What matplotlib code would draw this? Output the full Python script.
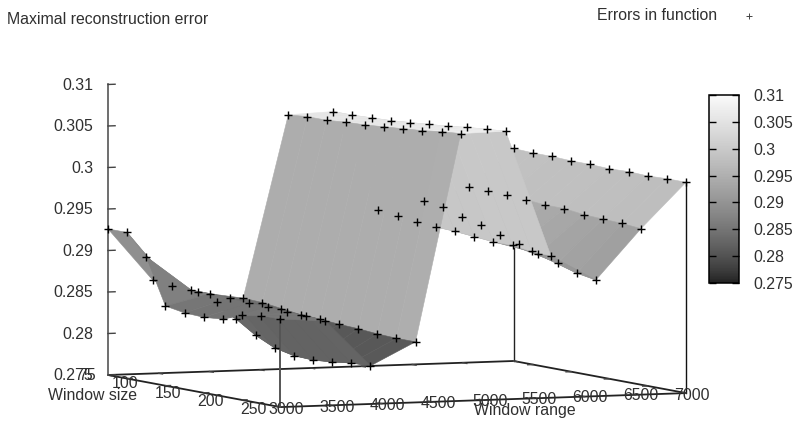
import numpy as np
import matplotlib
matplotlib.use("Agg")
import matplotlib.pyplot as plt
from matplotlib.colors import LinearSegmentedColormap, Normalize
from matplotlib.cm import ScalarMappable
from matplotlib.lines import Line2D
from mpl_toolkits.mplot3d import proj3d

plt.rcParams['font.family'] = ['Liberation Sans', 'DejaVu Sans']

window_size = [75, 100, 125, 150, 175, 200, 225, 250, 275, 300]
window_range = [3000, 3444, 3889, 4333, 4778, 5222, 5667, 6111, 6556, 7000]
err_3000 = [.2926, .2926, .2901, .2846, .2842, .2841, .2843, .2852, .2856, .2856]
err_3444 = [.2862, .2860, .2859, .2859, .2858, .2856, .2856, .2854, .2854, .2852]
err_3889 = [.2846, .2838, .2822, .2807, .2796, .2791, .2790, .2792, .2795, .2796]
err_4333 = [.2837, .2836, .2833, .2830, .2829, .2827, .2826, .2824, .2823, .2823]
err_4778 = [.3056, .3058, .3058, .3060, .3061, .3063, .3065, .3067, .3070, .3072]
err_5222 = [.3058, .3058, .3059, .3060, .3062, .3064, .3066, .3069, .3071, .3073]
err_5667 = [.2937, .2934, .2932, .2930, .2929, .2927, .2925, .2925, .2922, .2921]
err_6111 = [.2947, .2943, .2936, .2930, .2923, .2916, .2909, .2902, .2894, .2890]
err_6556 = [.2962, .2961, .2960, .2959, .2957, .2957, .2954, .2953, .2952, .2950]
err_7000 = [.3006, .3005, .3005, .3004, .3004, .3003, .3004, .3003, .3004, .3004]
z_ticks = [0.275, 0.28, 0.285, 0.29, 0.295, 0.3, 0.305, 0.31]
ws_ticks = [100, 150, 200, 250]
wr_ticks = [3000, 3500, 4000, 4500, 5000, 5500, 6000, 6500, 7000]

W, H = 795, 421
fig = plt.figure(figsize=(W / 100, H / 100), dpi=100)
ax = fig.add_axes([0, 0, 1, 1], projection='3d')
ax.set_proj_type('ortho')
ax.view_init(elev=4.6, azim=-23.3)
ax.set_box_aspect((435, 441, 291))
ax.set_xlim(75, 300, view_margin=0)
ax.set_ylim(3000, 7000, view_margin=0)
ax.set_zlim(0.275, 0.31, view_margin=0)
ax.set_axis_off()
ax.computed_zorder = False


def to_px(x, y, z):
    a, b, _ = proj3d.proj_transform(x, y, z, ax.get_proj())
    return ax.transData.transform((a, b))


# fit the 3D box to the frame: corner (75,3000,.275) and (300,7000,.275)
S, l, b = 900.0, 0.0, 0.0
target_a = np.array([108.0, H - 375.0])
target_c = np.array([686.0, H - 394.0])
for _ in range(4):
    ax.set_position([l / W, b / H, S / W, S / H])
    ax.apply_aspect()
    pa = to_px(75, 3000, 0.275)
    pc = to_px(300, 7000, 0.275)
    S *= (target_c[0] - target_a[0]) / (pc[0] - pa[0])
    ax.set_position([l / W, b / H, S / W, S / H])
    ax.apply_aspect()
    pa = to_px(75, 3000, 0.275)
    l += target_a[0] - pa[0]
    b += target_a[1] - pa[1]
ax.set_position([l / W, b / H, S / W, S / H])
ax.apply_aspect()

Z = np.array([err_3000, err_3444, err_3889, err_4333, err_4778,
              err_5222, err_5667, err_6111, err_6556, err_7000])
X, Y = np.meshgrid(window_size, window_range)

levels = np.linspace(0, 1, 256) ** 0.74
cmap = LinearSegmentedColormap.from_list(
    'grays', [(v,) * 3 for v in (30 + levels * 220) / 255])
norm = Normalize(0.275, 0.31)
cell = (Z[:-1, :-1] + Z[1:, :-1] + Z[:-1, 1:] + Z[1:, 1:]) / 4
ax.plot_surface(X, Y, Z, facecolors=cmap(norm(cell)), rstride=1, cstride=1,
                shade=False, linewidth=0.4, antialiased=True, zorder=2)

x0, x1, y0, y1, zb = 75, 300, 3000, 7000, 0.275
box = dict(color='#222222', lw=1.3, solid_capstyle='butt')
ax.plot([x0, x0], [y0, y1], [zb, zb], zorder=1, **box)
ax.plot([x0, x1], [y1, y1], [zb, zb], zorder=1, **box)
ax.plot([x0, x0], [y1, y1], [zb, Z[6, 7]], zorder=1, color='#222222', lw=1.0)
ax.plot([x0, x1], [y0, y0], [zb, zb], zorder=3, **box)
ax.plot([x1, x1], [y0, y1], [zb, zb], zorder=3, **box)
ax.plot([x1, x1], [y1, y1], [zb, Z[9, 9]], zorder=3, color='#111111', lw=1.0)
ax.plot([x1, x1], [y0, y0], [zb, Z[0, 9]], zorder=3, color='#555555', lw=1.4)
ax.plot([x0, x0], [y0, y0], [zb, 0.31], zorder=3, color='#555555', lw=1.2)

tick = dict(color='#444444', lw=1.0)
for z in z_ticks:
    ax.plot([x0, x0], [y0, y0 + 70], [z, z], zorder=3, **tick)
for v in ws_ticks:
    ax.plot([v, v], [y0, y0 + 50], [zb, zb], zorder=3, **tick)
    ax.plot([v, v], [y1, y1 - 50], [zb, zb], zorder=1, **tick)
for v in wr_ticks:
    ax.plot([x1, x1 - 5], [v, v], [zb, zb], zorder=3, **tick)
    ax.plot([x0, x0 + 5], [v, v], [zb, zb], zorder=1, **tick)

ax.plot(X.ravel(), Y.ravel(), Z.ravel(), linestyle='none', marker='+',
        color='black', ms=6, mew=1.0, zorder=5)

fs = 11.4
tc = '#303030'


def label(x, y, s, ha='center'):
    fig.text(x / W, 1 - y / H, s, ha=ha, va='center', fontsize=fs, color=tc)


label(7, 20, 'Maximal reconstruction error', 'left')
label(597, 16, 'Errors in function', 'left')
fig.add_artist(Line2D([749 / W], [1 - 16 / H], marker='+', color='#444444',
                      ms=5, mew=0.7, transform=fig.transFigure))

for z in z_ticks:
    y = H - to_px(x0, y0, z)[1]
    label(93, y + 1, f'{z:g}', 'right')
label(87, 376, '75')
for v, x, y in zip(ws_ticks, [125, 168, 210, 253], [384, 393, 401, 410]):
    label(x, y, str(v))
label(93, 395, 'Window size')
for v, x, y in zip(wr_ticks, [286, 337, 387, 438, 490, 539, 590, 641, 692],
                   [409, 407, 406, 404, 402, 400, 398, 396, 396]):
    label(x, y, str(v))
label(525, 410, 'Window range')

cax = fig.add_axes([709 / W, 1 - 283 / H, 30 / W, 188 / H])
cb = fig.colorbar(ScalarMappable(norm=norm, cmap=cmap), cax=cax)
cb.set_ticks(z_ticks)
cb.set_ticklabels([f'{z:g}' for z in z_ticks])
cax.tick_params(direction='in', left=True, right=True, length=5, width=1,
                pad=10.5, labelsize=fs, labelcolor=tc)
cb.outline.set_linewidth(1.1)

fig.savefig('out.png', dpi=100)
